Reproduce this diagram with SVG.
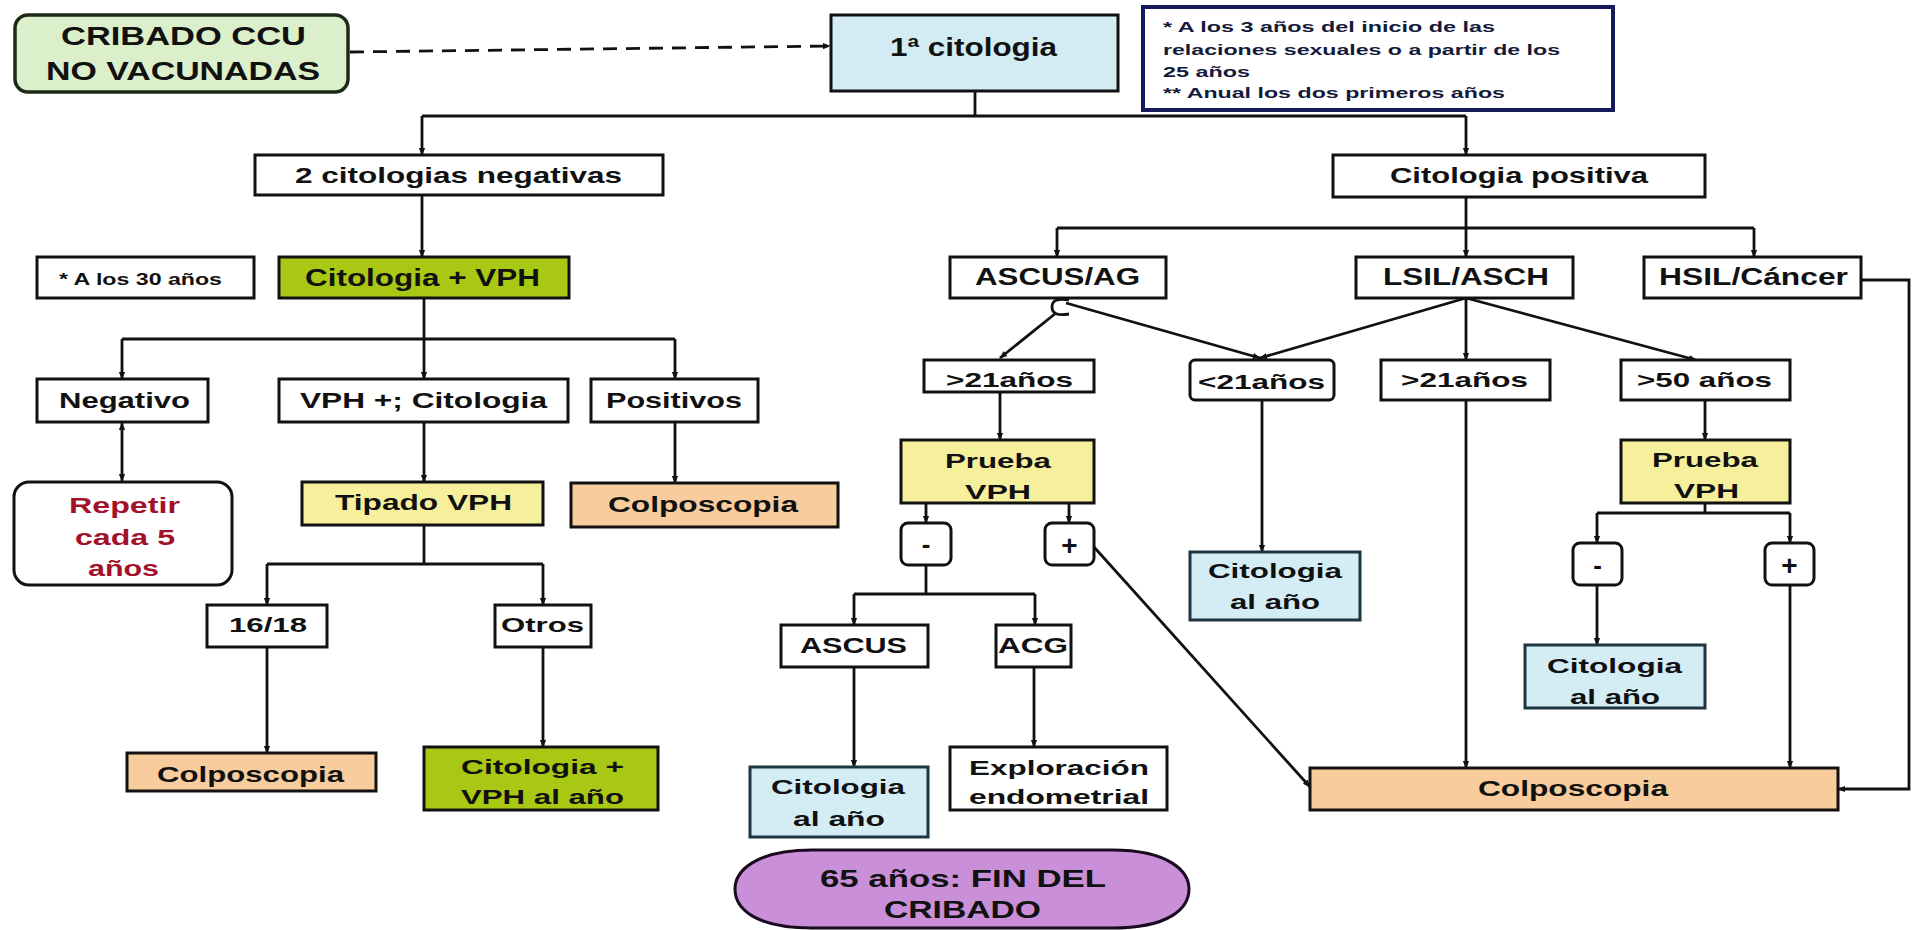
<svg xmlns="http://www.w3.org/2000/svg" width="1912" height="930" viewBox="0 0 1912 930">
<defs>
<marker id="ah" markerUnits="userSpaceOnUse" markerWidth="8" markerHeight="8" viewBox="0 0 10 10" refX="9" refY="5" orient="auto-start-reverse">
<path d="M0,1 L10,5 L0,9 z" fill="#111"/>
</marker>
<style>
.b{stroke:#111;stroke-width:3;fill:#fff}
.t{font-family:"Liberation Sans",Arial,sans-serif;font-weight:bold;fill:#111}
.c{stroke:#111;stroke-width:2.8;fill:none}
.blue{fill:#d4edf5;stroke:#1d3540}
.yel{fill:#f6f09c}
.grn{fill:#a9c813}
.pch{fill:#f8cc9c}
</style>
</defs>
<rect width="1912" height="930" fill="#fff"/>

<g id="connectors">
<path class="c" d="M350 52 L830 46" stroke-dasharray="14 9" marker-end="url(#ah)"/>
<path class="c" d="M975 91 V116 M422 116 H1466"/>
<path class="c" d="M422 116 V155" marker-end="url(#ah)"/>
<path class="c" d="M1466 116 V155" marker-end="url(#ah)"/>
<path class="c" d="M422 195 V257" marker-end="url(#ah)"/>
<path class="c" d="M1466 197 V228 M1057 228 H1754"/>
<path class="c" d="M1057 228 V257" marker-end="url(#ah)"/>
<path class="c" d="M1466 228 V257" marker-end="url(#ah)"/>
<path class="c" d="M1754 228 V257" marker-end="url(#ah)"/>
<path class="c" d="M424 298 V339 M122 339 H675" stroke-width="3.6"/>
<path class="c" d="M122 339 V379" marker-end="url(#ah)" stroke-width="3.4"/>
<path class="c" d="M424 339 V379" marker-end="url(#ah)" stroke-width="3.4"/>
<path class="c" d="M675 339 V379" marker-end="url(#ah)" stroke-width="3.4"/>
<path class="c" d="M122 423 V481" marker-start="url(#ah)" marker-end="url(#ah)" stroke-width="3.4"/>
<path class="c" d="M424 422 V482" marker-end="url(#ah)"/>
<path class="c" d="M675 422 V483" marker-end="url(#ah)" stroke-width="3.4"/>
<path class="c" d="M424 525 V564 M267 564 H543"/>
<path class="c" d="M267 564 V605" marker-end="url(#ah)"/>
<path class="c" d="M543 564 V605" marker-end="url(#ah)"/>
<path class="c" d="M267 647 V753" marker-end="url(#ah)"/>
<path class="c" d="M543 647 V747" marker-end="url(#ah)"/>
<path class="c" d="M1069 300 Q1052 297 1052 307 Q1052 317 1069 314" stroke-width="3.4"/>
<path class="c" d="M1056 313 L1000 358" marker-end="url(#ah)"/>
<path class="c" d="M1066 303 L1260 358" marker-end="url(#ah)"/>
<path class="c" d="M1466 298 L1260 358" marker-end="url(#ah)"/>
<path class="c" d="M1466 298 V360" marker-end="url(#ah)"/>
<path class="c" d="M1466 298 L1696 360" marker-end="url(#ah)"/>
<path class="c" d="M1000 392 V440" marker-end="url(#ah)"/>
<path class="c" d="M926 503 V523" marker-end="url(#ah)"/>
<path class="c" d="M1069 503 V523" marker-end="url(#ah)"/>
<path class="c" d="M926 565 V594 M854 594 H1035"/>
<path class="c" d="M854 594 V625" marker-end="url(#ah)"/>
<path class="c" d="M1035 594 V625" marker-end="url(#ah)"/>
<path class="c" d="M1094 547 L1310 787" marker-end="url(#ah)"/>
<path class="c" d="M854 667 V767" marker-end="url(#ah)"/>
<path class="c" d="M1034 667 V747" marker-end="url(#ah)"/>
<path class="c" d="M1262 400 V552" marker-end="url(#ah)"/>
<path class="c" d="M1466 400 V768" marker-end="url(#ah)"/>
<path class="c" d="M1705 400 V440" marker-end="url(#ah)"/>
<path class="c" d="M1705 503 V513 M1597 513 H1790"/>
<path class="c" d="M1597 513 V543" marker-end="url(#ah)"/>
<path class="c" d="M1790 513 V543" marker-end="url(#ah)"/>
<path class="c" d="M1597 585 V645" marker-end="url(#ah)"/>
<path class="c" d="M1790 585 V768" marker-end="url(#ah)"/>
<path class="c" d="M1861 280 H1909 V789 H1838" marker-end="url(#ah)"/>
</g>

<g id="cribado">
<rect x="15" y="15" width="333" height="77" rx="13" fill="#dcefcb" stroke="#1c2a14" stroke-width="3.5"/>
<text class="t" x="61" y="45" font-size="25" textLength="245" lengthAdjust="spacingAndGlyphs">CRIBADO CCU</text>
<text class="t" x="46" y="80" font-size="25" textLength="274" lengthAdjust="spacingAndGlyphs">NO VACUNADAS</text>
</g>
<g id="primera">
<rect x="831" y="15" width="287" height="76" fill="#d3ecf4" stroke="#111" stroke-width="3"/>
<text class="t" x="890" y="56" font-size="25" textLength="167" lengthAdjust="spacingAndGlyphs">1ª citologia</text>
</g>
<g id="nota">
<rect x="1143" y="7" width="470" height="103" fill="#fff" stroke="#141a5a" stroke-width="4"/>
<text class="t" x="1163" y="32" font-size="15" style="fill:#141a3a" textLength="332" lengthAdjust="spacingAndGlyphs">* A los 3 años del inicio de las</text>
<text class="t" x="1163" y="55" font-size="15" style="fill:#141a3a" textLength="397" lengthAdjust="spacingAndGlyphs">relaciones sexuales o a partir de los</text>
<text class="t" x="1163" y="77" font-size="15" style="fill:#141a3a" textLength="87" lengthAdjust="spacingAndGlyphs">25 años</text>
<text class="t" x="1163" y="98" font-size="15" style="fill:#141a3a" textLength="342" lengthAdjust="spacingAndGlyphs">** Anual los dos primeros años</text>
</g>
<g id="negativas2">
<rect class="b" x="255" y="155" width="408" height="40"/>
<text class="t" x="295" y="183" font-size="22" textLength="327" lengthAdjust="spacingAndGlyphs">2 citologias negativas</text>
</g>
<g id="positiva">
<rect class="b" x="1333" y="155" width="372" height="42"/>
<text class="t" x="1390" y="183" font-size="22" textLength="258" lengthAdjust="spacingAndGlyphs">Citologia positiva</text>
</g>
<g id="nota30">
<rect class="b" x="37" y="257" width="217" height="41"/>
<text class="t" x="59" y="285" font-size="16" textLength="163" lengthAdjust="spacingAndGlyphs">* A los 30 años</text>
</g>
<g id="citvph">
<rect class="b grn" x="279" y="257" width="290" height="41"/>
<text class="t" x="305" y="286" font-size="24" textLength="235" lengthAdjust="spacingAndGlyphs">Citologia + VPH</text>
</g>
<g id="ascusag">
<rect class="b" x="950" y="257" width="216" height="41"/>
<text class="t" x="975" y="285" font-size="24" textLength="165" lengthAdjust="spacingAndGlyphs">ASCUS/AG</text>
</g>
<g id="lsil">
<rect class="b" x="1356" y="257" width="217" height="41"/>
<text class="t" x="1383" y="285" font-size="24" textLength="166" lengthAdjust="spacingAndGlyphs">LSIL/ASCH</text>
</g>
<g id="hsil">
<rect class="b" x="1644" y="257" width="217" height="41"/>
<text class="t" x="1659" y="285" font-size="24" textLength="189" lengthAdjust="spacingAndGlyphs">HSIL/Cáncer</text>
</g>
<g id="negativo">
<rect class="b" x="37" y="379" width="171" height="43"/>
<text class="t" x="59" y="408" font-size="22" textLength="131" lengthAdjust="spacingAndGlyphs">Negativo</text>
</g>
<g id="vphcit">
<rect class="b" x="279" y="379" width="289" height="43"/>
<text class="t" x="300" y="408" font-size="22" textLength="247" lengthAdjust="spacingAndGlyphs">VPH +; Citologia</text>
</g>
<g id="positivos">
<rect class="b" x="591" y="379" width="167" height="43"/>
<text class="t" x="606" y="408" font-size="22" textLength="136" lengthAdjust="spacingAndGlyphs">Positivos</text>
</g>
<g id="repetir">
<rect class="b" x="14" y="482" width="218" height="103" rx="15"/>
<text class="t" x="69" y="513" font-size="22" style="fill:#a3102a" textLength="111" lengthAdjust="spacingAndGlyphs">Repetir</text>
<text class="t" x="75" y="545" font-size="22" style="fill:#a3102a" textLength="100" lengthAdjust="spacingAndGlyphs">cada 5</text>
<text class="t" x="88" y="576" font-size="22" style="fill:#a3102a" textLength="71" lengthAdjust="spacingAndGlyphs">años</text>
</g>
<g id="tipado">
<rect class="b yel" x="302" y="482" width="241" height="43"/>
<text class="t" x="335" y="510" font-size="22" textLength="177" lengthAdjust="spacingAndGlyphs">Tipado VPH</text>
</g>
<g id="colpo1">
<rect class="b pch" x="571" y="483" width="267" height="44"/>
<text class="t" x="608" y="512" font-size="22" textLength="190" lengthAdjust="spacingAndGlyphs">Colposcopia</text>
</g>
<g id="n1618">
<rect class="b" x="207" y="605" width="120" height="42"/>
<text class="t" x="229" y="632" font-size="21" textLength="78" lengthAdjust="spacingAndGlyphs">16/18</text>
</g>
<g id="otros">
<rect class="b" x="495" y="605" width="96" height="42"/>
<text class="t" x="501" y="632" font-size="21" textLength="83" lengthAdjust="spacingAndGlyphs">Otros</text>
</g>
<g id="colpo2">
<rect class="b pch" x="127" y="753" width="249" height="38"/>
<text class="t" x="157" y="782" font-size="22" textLength="187" lengthAdjust="spacingAndGlyphs">Colposcopia</text>
</g>
<g id="citvphano">
<rect class="b grn" x="424" y="747" width="234" height="63"/>
<text class="t" x="461" y="774" font-size="21" textLength="163" lengthAdjust="spacingAndGlyphs">Citologia +</text>
<text class="t" x="461" y="804" font-size="21" textLength="163" lengthAdjust="spacingAndGlyphs">VPH al año</text>
</g>
<g id="mayor21a">
<rect class="b" x="924" y="360" width="170" height="32"/>
<text class="t" x="946" y="387" font-size="21" textLength="127" lengthAdjust="spacingAndGlyphs">&gt;21años</text>
</g>
<g id="menor21">
<rect class="b" x="1190" y="360" width="144" height="40" rx="5"/>
<text class="t" x="1198" y="389" font-size="21" textLength="127" lengthAdjust="spacingAndGlyphs">&lt;21años</text>
</g>
<g id="mayor21b">
<rect class="b" x="1381" y="360" width="169" height="40"/>
<text class="t" x="1401" y="387" font-size="21" textLength="127" lengthAdjust="spacingAndGlyphs">&gt;21años</text>
</g>
<g id="mayor50">
<rect class="b" x="1621" y="360" width="169" height="40"/>
<text class="t" x="1637" y="387" font-size="21" textLength="135" lengthAdjust="spacingAndGlyphs">&gt;50 años</text>
</g>
<g id="prueba1">
<rect class="b yel" x="901" y="440" width="193" height="63"/>
<text class="t" x="945" y="468" font-size="21" textLength="106" lengthAdjust="spacingAndGlyphs">Prueba</text>
<text class="t" x="965" y="499" font-size="21" textLength="66" lengthAdjust="spacingAndGlyphs">VPH</text>
</g>
<g id="prueba2">
<rect class="b yel" x="1621" y="440" width="169" height="63"/>
<text class="t" x="1652" y="467" font-size="21" textLength="106" lengthAdjust="spacingAndGlyphs">Prueba</text>
<text class="t" x="1674" y="498" font-size="21" textLength="65" lengthAdjust="spacingAndGlyphs">VPH</text>
</g>
<g id="menos1">
<rect class="b" x="901" y="523" width="50" height="42" rx="7"/>
<text class="t" x="926" y="553" font-size="26" text-anchor="middle">-</text>
</g>
<g id="mas1">
<rect class="b" x="1045" y="523" width="49" height="42" rx="7"/>
<text class="t" x="1069.5" y="555" font-size="28" text-anchor="middle">+</text>
</g>
<g id="menos2">
<rect class="b" x="1573" y="543" width="49" height="42" rx="7"/>
<text class="t" x="1597.5" y="574" font-size="26" text-anchor="middle">-</text>
</g>
<g id="mas2">
<rect class="b" x="1765" y="543" width="49" height="42" rx="7"/>
<text class="t" x="1789.5" y="575" font-size="28" text-anchor="middle">+</text>
</g>
<g id="citano1">
<rect class="b blue" x="1190" y="552" width="170" height="68"/>
<text class="t" x="1208" y="578" font-size="21" textLength="134" lengthAdjust="spacingAndGlyphs">Citologia</text>
<text class="t" x="1230" y="609" font-size="21" textLength="90" lengthAdjust="spacingAndGlyphs">al año</text>
</g>
<g id="citano2">
<rect class="b blue" x="1525" y="645" width="180" height="63"/>
<text class="t" x="1547" y="673" font-size="21" textLength="135" lengthAdjust="spacingAndGlyphs">Citologia</text>
<text class="t" x="1570" y="704" font-size="21" textLength="90" lengthAdjust="spacingAndGlyphs">al año</text>
</g>
<g id="ascus">
<rect class="b" x="781" y="625" width="147" height="42"/>
<text class="t" x="800" y="653" font-size="22" textLength="107" lengthAdjust="spacingAndGlyphs">ASCUS</text>
</g>
<g id="acg">
<rect class="b" x="996" y="625" width="75" height="42"/>
<text class="t" x="998" y="653" font-size="22" textLength="70" lengthAdjust="spacingAndGlyphs">ACG</text>
</g>
<g id="citano3">
<rect class="b blue" x="750" y="767" width="178" height="70"/>
<text class="t" x="771" y="794" font-size="21" textLength="134" lengthAdjust="spacingAndGlyphs">Citologia</text>
<text class="t" x="793" y="826" font-size="21" textLength="92" lengthAdjust="spacingAndGlyphs">al año</text>
</g>
<g id="exploracion">
<rect class="b" x="950" y="747" width="217" height="63"/>
<text class="t" x="969" y="775" font-size="21" textLength="180" lengthAdjust="spacingAndGlyphs">Exploración</text>
<text class="t" x="969" y="804" font-size="21" textLength="180" lengthAdjust="spacingAndGlyphs">endometrial</text>
</g>
<g id="fin">
<path d="M812 850 H1112 C1170 850 1189 872 1189 889 C1189 908 1170 928 1112 928 H812 C754 928 735 908 735 889 C735 872 754 850 812 850 Z" fill="#c98fd8" stroke="#1a0a20" stroke-width="3"/>
<text class="t" x="820" y="887" font-size="24" textLength="286" lengthAdjust="spacingAndGlyphs">65 años: FIN DEL</text>
<text class="t" x="884" y="918" font-size="24" textLength="157" lengthAdjust="spacingAndGlyphs">CRIBADO</text>
</g>
<g id="colpo3">
<rect class="b pch" x="1310" y="768" width="528" height="42"/>
<text class="t" x="1478" y="796" font-size="22" textLength="190" lengthAdjust="spacingAndGlyphs">Colposcopia</text>
</g>
</svg>
